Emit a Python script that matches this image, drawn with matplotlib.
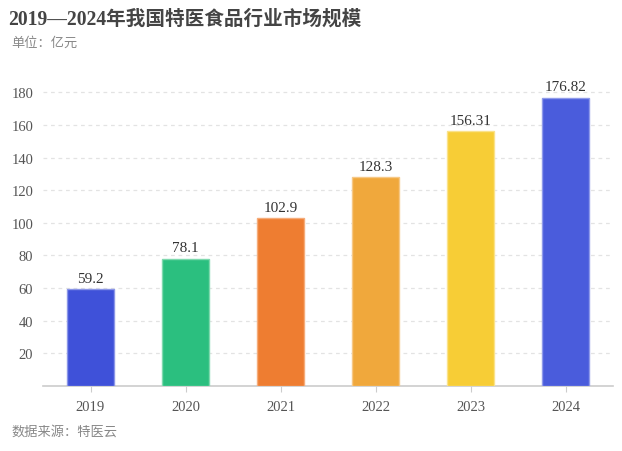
import matplotlib
matplotlib.use("Agg")
import matplotlib.pyplot as plt

years = ["2019", "2020", "2021", "2022", "2023", "2024"]
values = [59.2, 78.1, 102.9, 128.3, 156.31, 176.82]
labels = ["59.2", "78.1", "102.9", "128.3", "156.31", "176.82"]
colors = ["#3f51d9", "#2bbf7f", "#ee7d31", "#f0a83c", "#f7cd36", "#4a5cdc"]
edges = ["#8b96e8", "#7fd9ae", "#f5ac7a", "#f6c886", "#fae28a", "#8f9aea"]
yticks = [20, 40, 60, 80, 100, 120, 140, 160, 180]

serif = ["Liberation Serif", "Noto Sans CJK SC"]
cjk = ["Noto Sans CJK SC", "DejaVu Sans"]

fig = plt.figure(figsize=(6.22, 4.52), dpi=100)
ax = fig.add_axes([43 / 622, 65 / 452, 570 / 622, 310 / 452])

x = range(len(years))
ax.bar(x, values, width=0.5, color=colors, edgecolor=edges, linewidth=1, zorder=3)
for i, v in enumerate(values):
    ax.text(i, v + 2.5, labels[i], ha="center", va="bottom", fontsize=11,
            family=serif, color="#333333")

ax.set_xlim(-0.5, 5.5)
ax.set_ylim(0, 190)
ax.set_yticks(yticks)
ax.set_yticklabels([str(t) for t in yticks], family=serif, fontsize=10.5, color="#555555")
ax.set_xticks(list(x))
ax.set_xticklabels(years, family=serif, fontsize=10.5, color="#555555")
ax.yaxis.grid(True, linestyle=(0, (3, 3)), color="#e3e3e3", linewidth=0.9, zorder=0)
ax.tick_params(axis="y", length=0, pad=7)
ax.tick_params(axis="x", length=4, color="#cccccc", pad=6)
for s in ["top", "right", "left"]:
    ax.spines[s].set_visible(False)
ax.spines["bottom"].set_color("#cccccc")
ax.spines["bottom"].set_linewidth(1.2)

fig.text(8 / 622, 1 - 20 / 452, "2019—2024年我国特医食品行业市场规模", fontsize=14.1,
         fontweight="bold", family=serif, color="#444444", va="center", ha="left")
fig.text(11 / 622, 1 - 43 / 452, "单位：亿元", fontsize=9.5, family=cjk,
         color="#888888", va="center", ha="left")
fig.text(11 / 622, 1 - 432 / 452, "数据来源：特医云", fontsize=9.5, family=cjk,
         color="#888888", va="center", ha="left")

fig.savefig("out.png", dpi=100)
